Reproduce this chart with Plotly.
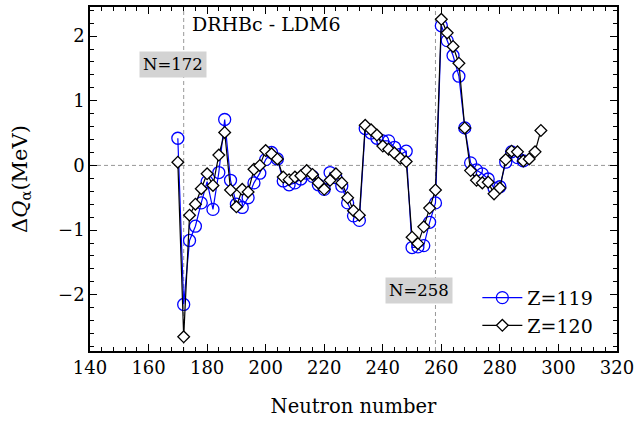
import plotly.graph_objects as go

# Neutron numbers and alpha-decay energy differences (MeV)
n_z119 = [170, 172, 174, 176, 178, 180, 182, 184, 186, 188, 190, 192, 194, 196,
          198, 200, 202, 204, 206, 208, 210, 212, 214, 216, 218, 220, 222, 224,
          226, 228, 230, 232, 234, 236, 238, 240, 242, 244, 246, 248, 250, 252,
          254, 256, 258, 260, 262, 264, 266, 268, 270, 272, 274, 276, 278, 280,
          282, 284, 286, 288]
dq_z119 = [0.42, -2.15, -1.16, -0.94, -0.58, -0.25, -0.68, -0.11, 0.71, -0.23,
           -0.60, -0.65, -0.50, -0.27, -0.12, 0.09, 0.20, 0.10, -0.24, -0.30,
           -0.27, -0.21, -0.12, -0.17, -0.30, -0.37, -0.11, -0.19, -0.32, -0.58,
           -0.78, -0.85, 0.57, 0.50, 0.42, 0.38, 0.38, 0.28, 0.17, 0.22, -1.27,
           -1.26, -1.24, -0.88, -0.58, 2.16, 1.93, 1.70, 1.38, 0.58, 0.04, -0.07,
           -0.13, -0.21, -0.35, -0.33, 0.05, 0.21, 0.12, 0.07]

n_z120 = [170, 172, 174, 176, 178, 180, 182, 184, 186, 188, 190, 192, 194, 196,
          198, 200, 202, 204, 206, 208, 210, 212, 214, 216, 218, 220, 222, 224,
          226, 228, 230, 232, 234, 236, 238, 240, 242, 244, 246, 248, 250, 252,
          254, 256, 258, 260, 262, 264, 266, 268, 270, 272, 274, 276, 278, 280,
          282, 284, 286, 288, 290, 292, 294]
dq_z120 = [0.05, -2.65, -0.77, -0.60, -0.36, -0.13, -0.31, 0.16, 0.51, -0.38,
           -0.64, -0.37, -0.41, -0.06, 0.00, 0.23, 0.18, 0.10, -0.18, -0.22,
           -0.18, -0.16, -0.08, -0.14, -0.27, -0.37, -0.23, -0.13, -0.27, -0.50,
           -0.70, -0.77, 0.62, 0.55, 0.47, 0.30, 0.25, 0.19, 0.11, 0.06, -1.11,
           -1.21, -0.95, -0.66, -0.38, 2.26, 2.05, 1.84, 1.58, 0.58, -0.08, -0.23,
           -0.27, -0.26, -0.44, -0.35, 0.09, 0.22, 0.21, 0.07, 0.10, 0.21, 0.54]

# Shell-closure markers
magic_n = [172, 258]
magic_labels = ["N=172", "N=258"]
magic_label_pos = [(168.2, 1.56), (252.3, -1.94)]

x_ticks = [140, 160, 180, 200, 220, 240, 260, 280, 300, 320]
y_ticks = [-2, -1, 0, 1, 2]

FONT = "DejaVu Serif"
REF_LINE = dict(color="#8c8c8c", width=0.9, dash="4px,3px")

fig = go.Figure()

fig.add_trace(go.Scatter(
    x=n_z119, y=dq_z119, mode="lines+markers", name="Z=119",
    line=dict(color="#0000ff", width=1.2),
    marker=dict(symbol="circle-open", size=12, color="#0000ff",
                line=dict(width=1.3, color="#0000ff")),
))
fig.add_trace(go.Scatter(
    x=n_z120, y=dq_z120, mode="lines+markers", name="Z=120",
    line=dict(color="black", width=1.2),
    marker=dict(symbol="diamond", size=9, color="white",
                line=dict(width=1.3, color="black")),
))

# Dashed reference lines
fig.add_hline(y=0, line=REF_LINE, layer="below")
for n in magic_n:
    fig.add_shape(type="line", xref="x", yref="paper", x0=n, x1=n, y0=0, y1=1,
                  line=REF_LINE, layer="below")

for text, (lx, ly) in zip(magic_labels, magic_label_pos):
    fig.add_annotation(x=lx, y=ly, text=text, showarrow=False,
                       bgcolor="#d3d3d3", borderpad=3,
                       font=dict(family=FONT, size=16.5, color="black"))

fig.add_annotation(x=174.3, y=2.18, xanchor="left", text="DRHBc - LDM6",
                   showarrow=False,
                   font=dict(family=FONT, size=19, color="black"))

axis_common = dict(
    showgrid=False, zeroline=False, showline=True, linecolor="black",
    linewidth=1.5, mirror="allticks", ticks="inside", ticklen=7, tickwidth=1,
    tickcolor="black", tickfont=dict(family=FONT, size=18, color="black"),
)

fig.update_xaxes(
    range=[140, 320], tickvals=x_ticks,
    minor=dict(ticks="inside", ticklen=4, tickwidth=1, tickcolor="black", dtick=4),
    title=dict(text="Neutron number", font=dict(family=FONT, size=19.5, color="black"),
               standoff=22),
    **axis_common,
)
fig.update_yaxes(
    range=[-2.87, 2.45], tickvals=y_ticks,
    minor=dict(ticks="inside", ticklen=4, tickwidth=1, tickcolor="black", dtick=0.2),
    title=dict(text="Δ<i>Q</i><sub>α</sub>(MeV)",
               font=dict(family=FONT, size=21, color="black"), standoff=25),
    **axis_common,
)

fig.update_layout(
    width=639, height=421,
    margin=dict(l=90, r=21, t=5, b=70),
    plot_bgcolor="white", paper_bgcolor="white",
    showlegend=True,
    legend=dict(x=0.735, y=0.21, xanchor="left", yanchor="top",
                bgcolor="rgba(0,0,0,0)", itemwidth=40,
                font=dict(family=FONT, size=19, color="black")),
)

fig.write_html("out.html")
